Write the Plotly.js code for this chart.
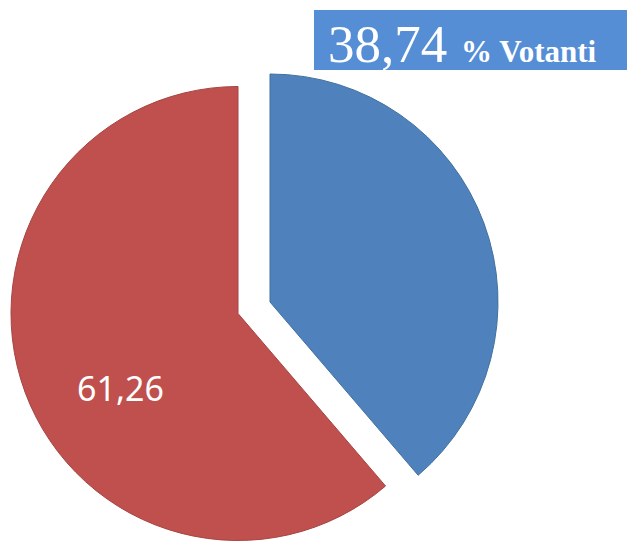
<!DOCTYPE html>
<html>
<head>
<meta charset="utf-8">
<script src="https://cdn.plot.ly/plotly-3.0.1.min.js"></script>
<style>
  html, body { margin: 0; padding: 0; background: #ffffff; overflow: hidden; }
  #chart { width: 628px; height: 542px; }
</style>
</head>
<body>
<div id="chart"></div>
<script>
// ---- data ----
var categories = ['Votanti', 'Non votanti'];
var values = [38.74, 61.26];
var titleSuffix = '% Votanti';
var sliceColors = ['#4F81BD', '#C0504D'];
var sliceEdges = ['#41719C', '#A54441'];

var W = 628, H = 542;
function px(x) { return x / W; }
function py(y) { return 1 - y / H; }
function fmt(v) { return v.toFixed(2).replace('.', ','); }

var clear = 'rgba(0,0,0,0)';

// base pie (non-pulled slice)
var redTrace = {
  type: 'pie',
  labels: categories,
  values: values,
  sort: false,
  direction: 'clockwise',
  rotation: 0,
  textinfo: 'none',
  hoverinfo: 'label+value',
  marker: {
    colors: [clear, sliceColors[1]],
    line: { color: [clear, sliceEdges[1]], width: 1 }
  },
  domain: { x: [px(11), px(465)], y: [py(540.5), py(86.5)] },
  showlegend: false
};

// exploded slice
var blueTrace = {
  type: 'pie',
  labels: categories,
  values: values,
  sort: false,
  direction: 'clockwise',
  rotation: 0,
  textinfo: 'none',
  hoverinfo: 'label+value',
  marker: {
    colors: [sliceColors[0], clear],
    line: { color: [sliceEdges[0], clear], width: 1 }
  },
  domain: { x: [px(42), px(498)], y: [py(530), py(74)] },
  showlegend: false
};

var layout = {
  width: W,
  height: H,
  margin: { l: 0, r: 0, t: 0, b: 0, pad: 0 },
  paper_bgcolor: '#ffffff',
  plot_bgcolor: '#ffffff',
  showlegend: false,
  shapes: [{
    type: 'rect', xref: 'paper', yref: 'paper',
    x0: px(314), x1: px(627), y0: py(70), y1: py(10),
    fillcolor: '#558ED5', line: { width: 0 }, layer: 'above'
  }],
  annotations: [
    {
      xref: 'paper', yref: 'paper', x: px(326), y: py(44.5),
      xanchor: 'left', yanchor: 'middle', showarrow: false,
      text: fmt(values[0]),
      font: { family: 'Liberation Serif, DejaVu Serif, serif', size: 53, color: '#ffffff' }
    },
    {
      xref: 'paper', yref: 'paper', x: px(459), y: py(51.5),
      xanchor: 'left', yanchor: 'middle', showarrow: false,
      text: '<b>' + titleSuffix + '</b>',
      font: { family: 'Liberation Serif, DejaVu Serif, serif', size: 31, color: '#ffffff' }
    },
    {
      xref: 'paper', yref: 'paper', x: px(120), y: py(388),
      xanchor: 'center', yanchor: 'middle', showarrow: false,
      text: fmt(values[1]),
      font: { family: 'Noto Sans, Open Sans, sans-serif', size: 34, color: '#ffffff' }
    }
  ]
};

Plotly.newPlot('chart', [redTrace, blueTrace], layout, { displayModeBar: false, staticPlot: true });
</script>
</body>
</html>
